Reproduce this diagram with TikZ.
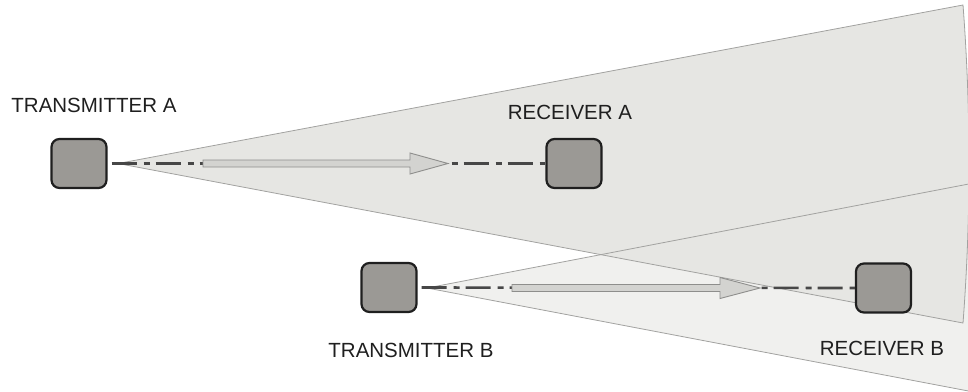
\documentclass[tikz,border=0pt]{standalone}
\usepackage{fontspec}
\setmainfont{Liberation Sans}
\begin{document}
\begin{tikzpicture}[x=1pt,y=-1pt,
  box/.style={draw=black!88,line width=2.2pt,fill=boxgray,rounded corners=8pt,minimum width=55pt,minimum height=49pt,inner sep=0pt},
  lbl/.style={font=\fontsize{20.5}{24}\selectfont,text=black!88,inner sep=0pt},
  beamedge/.style={draw=edgegray,line width=0.8pt},
  axis/.style={draw=black!72,line width=2.6pt,dash pattern=on 25pt off 7pt on 6pt off 6pt},
  blockarrow/.style={draw=arrowedge,fill=arrowfill,line width=0.9pt,line join=miter}
]
\definecolor{boxgray}{HTML}{9B9995}
\definecolor{beamA}{HTML}{E6E6E3}
\definecolor{beamB}{HTML}{F0F0EE}
\definecolor{edgegray}{HTML}{A2A2A0}
\definecolor{arrowfill}{HTML}{D3D3D0}
\definecolor{arrowedge}{HTML}{8E8E8C}
\useasboundingbox (0,0) rectangle (968,391);
\clip (0,0) rectangle (968,391);
% apexes
\coordinate (apA) at (118,163.5);
\coordinate (apB) at (427,288);
\coordinate (aTop) at (963,5);
\coordinate (aBot) at (963,323);
\coordinate (bTop) at (1000,178);
\coordinate (bBot) at (1000,397);
% beams
\fill[beamB] (apB) -- (bTop) -- (bBot) -- cycle;
\fill[beamA] (apA) -- (aTop) .. controls (971,110) and (971,218) .. (aBot) -- cycle;
\draw[beamedge] (apB) -- (bTop) (apB) -- (bBot);
\draw[beamedge] (apA) -- (aTop) .. controls (971,110) and (971,218) .. (aBot) -- cycle;
% nodes
\node[box] (txa) at (79,163.5) {};
\node[box] (rxa) at (574,163.5) {};
\node[box] (txb) at (389,287.5) {};
\node[box] (rxb) at (883.5,288) {};
\node[lbl] (ltxa) at (94,105) {TRANSMITTER A};
\node[lbl] (lrxa) at (570,112) {RECEIVER A};
\node[lbl] (ltxb) at (411,350) {TRANSMITTER B};
\node[lbl] (lrxb) at (882,348) {RECEIVER B};
% axes
\draw[axis,dash phase=-4pt] (txa.east) -- (rxa.west);
\draw[axis,dash phase=-4pt] (txb.east) -- (rxb.west);
% block arrows
\draw[blockarrow] (203,160) -- (410,160) -- (410,153) -- (448,163.5) -- (410,174) -- (410,167) -- (203,167) -- cycle;
\draw[blockarrow] (512,284.5) -- (720,284.5) -- (720,277.5) -- (760,288) -- (720,298.5) -- (720,291.5) -- (512,291.5) -- cycle;
\end{tikzpicture}
\end{document}
